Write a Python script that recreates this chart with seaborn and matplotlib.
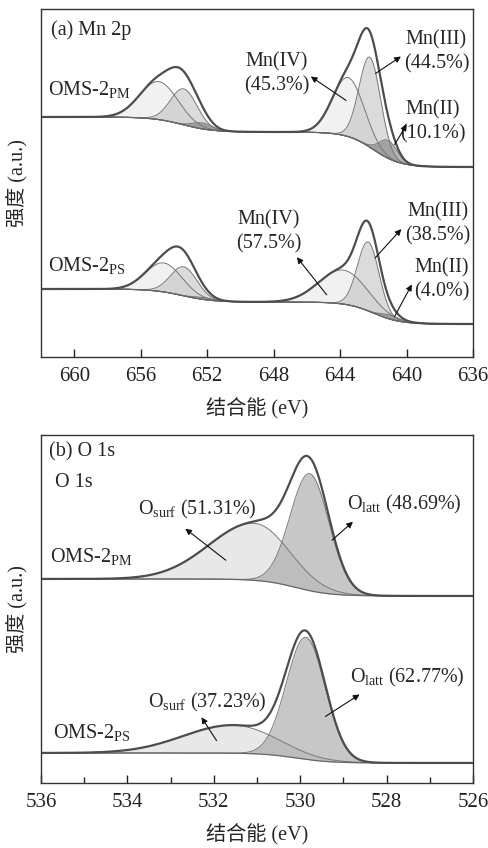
import numpy as np
import matplotlib
matplotlib.use('Agg')
import matplotlib.pyplot as plt
from matplotlib.ticker import MultipleLocator
import seaborn as sns

sns.set_theme(style='ticks')
plt.rcParams['font.family'] = ['Liberation Serif', 'Noto Sans CJK SC']
plt.rcParams['mathtext.fontset'] = 'custom'
plt.rcParams['mathtext.rm'] = 'Liberation Serif'
plt.rcParams['mathtext.it'] = 'Liberation Serif:italic'

## Mn 2p fit: centre (eV), height (a.u.), sigma (eV)
# order: Mn(IV), Mn(III), Mn(II) for 2p3/2 then the same for 2p1/2
mn_kind = ['IV', 'III', 'II', 'IV', 'III', 'II']
mn_center_pm = [643.5, 642.2, 641.1, 654.9, 653.4, 652.3]
mn_height_pm = [59, 90, 18, 38, 36, 6]
mn_sigma_pm = [0.95, 0.65, 0.55, 1.15, 0.8, 0.6]
mn_center_ps = [643.8, 642.3, 641.0, 654.6, 653.4, 652.2]
mn_height_ps = [34, 69, 4, 29, 29, 2]
mn_sigma_ps = [1.45, 0.65, 0.55, 1.1, 0.8, 0.6]
# background levels (low BE side, between peaks, high BE side)
mn_bg_pm = [190, 225, 240]
mn_bg_ps = [33, 55, 68]
mn_step = [642.0, 653.5]
mn_step_w = [0.8, 0.9]

## O 1s fit: O_surf, O_latt (sigma on high / low BE side)
o_kind = ['surf', 'latt']
o_center_pm = [531.05, 529.78]
o_height_pm = [57, 117]
o_sigma_hi_pm = [1.05, 0.45]
o_sigma_lo_pm = [0.8, 0.45]
o_center_ps = [531.56, 529.87]
o_height_ps = [28, 122]
o_sigma_hi_ps = [1.15, 0.45]
o_sigma_lo_ps = [1.0, 0.45]
o_bg_pm = [187, 204]
o_bg_ps = [20, 30]
o_step = 530.1
o_step_w = 0.4

fills = {'IV': ('#d8d8d8', 0.35), 'III': ('#b8b8b8', 0.5), 'II': ('#6a6a6a', 0.5),
         'surf': ('#d6d6d6', 0.55), 'latt': ('#9a9a9a', 0.55)}


def sig(t):
    return 1.0 / (1.0 + np.exp(-t))


def draw(ax, E, bg, kinds, centers, heights, s_hi, s_lo):
    comps = []
    for c, h, a, b in zip(centers, heights, s_hi, s_lo):
        s = np.where(E > c, a, b)
        comps.append(h * np.exp(-(E - c) ** 2 / (2 * s ** 2)))
    for k, comp in zip(kinds, comps):
        col, a = fills[k]
        ax.fill_between(E, bg, bg + comp, color=col, alpha=a, lw=0)
        sns.lineplot(x=E, y=bg + comp, ax=ax, color='#777777', lw=0.7, sort=False, estimator=None)
    sns.lineplot(x=E, y=bg, ax=ax, color='#666666', lw=0.9, sort=False, estimator=None)
    env = bg + np.sum(comps, axis=0)
    sns.lineplot(x=E, y=env, ax=ax, color='#4d4d4d', lw=1.6, sort=False, estimator=None)


def arrow(ax, head, tail):
    ax.annotate('', xy=head, xytext=tail,
                arrowprops=dict(arrowstyle='-|>', color='#111111', lw=0.8, mutation_scale=9))


fig = plt.figure(figsize=(4.89, 8.48), dpi=100)
ax1 = fig.add_axes([0.0838, 0.579, 0.8834, 0.4104])
ax2 = fig.add_axes([0.0838, 0.0767, 0.8834, 0.4104])
fs = 14.5
ls = 1.3

# (a) Mn 2p
E = np.linspace(662, 636, 700)
for lv, cen, hts, sg in [(mn_bg_pm, mn_center_pm, mn_height_pm, mn_sigma_pm),
                         (mn_bg_ps, mn_center_ps, mn_height_ps, mn_sigma_ps)]:
    bg = lv[0] + (lv[1] - lv[0]) * sig((E - mn_step[0]) / mn_step_w[0]) \
        + (lv[2] - lv[1]) * sig((E - mn_step[1]) / mn_step_w[1])
    draw(ax1, E, bg, mn_kind, cen, hts, sg, sg)

ax1.set_xlim(662, 636)
ax1.set_ylim(0, 348)
ax1.set_xticks(np.arange(660, 635, -4))
ax1.text(661.4, 327, '(a) Mn 2p', fontsize=fs, va='center')
ax1.text(661.6, 267, 'OMS-2$_{\\mathrm{PM}}$', fontsize=fs, va='center')
ax1.text(661.6, 92, 'OMS-2$_{\\mathrm{PS}}$', fontsize=fs, va='center')

ax1.text(647.8, 283, 'Mn(IV)\n(45.3%)', fontsize=fs, ha='center', va='center', linespacing=ls)
arrow(ax1, (645.9, 282), (643.5, 255))
ax1.text(638.2, 305, 'Mn(III)\n(44.5%)', fontsize=fs, ha='center', va='center', linespacing=ls)
arrow(ax1, (640.2, 302), (642.0, 282))
ax1.text(638.4, 235, 'Mn(II)\n(10.1%)', fontsize=fs, ha='center', va='center', linespacing=ls)
arrow(ax1, (639.9, 235), (640.8, 210))

ax1.text(648.3, 125, 'Mn(IV)\n(57.5%)', fontsize=fs, ha='center', va='center', linespacing=ls)
arrow(ax1, (646.7, 102), (644.7, 60))
ax1.text(638.1, 133, 'Mn(III)\n(38.5%)', fontsize=fs, ha='center', va='center', linespacing=ls)
arrow(ax1, (640.2, 130), (642.0, 97))
ax1.text(637.9, 77, 'Mn(II)\n(4.0%)', fontsize=fs, ha='center', va='center', linespacing=ls)
arrow(ax1, (639.6, 75), (640.8, 38))

# (b) O 1s
E2 = np.linspace(536, 526, 600)
for lv, cen, hts, sh, sl in [(o_bg_pm, o_center_pm, o_height_pm, o_sigma_hi_pm, o_sigma_lo_pm),
                             (o_bg_ps, o_center_ps, o_height_ps, o_sigma_hi_ps, o_sigma_lo_ps)]:
    bg = lv[0] + (lv[1] - lv[0]) * sig((E2 - o_step) / o_step_w)
    draw(ax2, E2, bg, o_kind, cen, hts, sh, sl)

ax2.set_xlim(536, 526)
ax2.set_ylim(0, 348)
ax2.set_xticks(np.arange(536, 525, -2))
ax2.xaxis.set_minor_locator(MultipleLocator(1))
ax2.text(535.81, 331, '(b) O 1s', fontsize=fs, va='center')
ax2.text(535.68, 300, 'O 1s', fontsize=fs, va='center')
ax2.text(535.79, 226, 'OMS-2$_{\\mathrm{PM}}$', fontsize=fs, va='center')
ax2.text(535.72, 50, 'OMS-2$_{\\mathrm{PS}}$', fontsize=fs, va='center')

ax2.text(533.75, 273, 'O$_{\\mathrm{surf}}$ (51.31%)', fontsize=fs, va='center')
arrow(ax2, (532.71, 256), (531.67, 221))
ax2.text(528.92, 278, 'O$_{\\mathrm{latt}}$ (48.69%)', fontsize=fs, va='center')
arrow(ax2, (528.73, 263), (529.31, 241))
ax2.text(533.52, 80, 'O$_{\\mathrm{surf}}$ (37.23%)', fontsize=fs, va='center')
arrow(ax2, (532.32, 68), (531.9, 40))
ax2.text(528.85, 105, 'O$_{\\mathrm{latt}}$ (62.77%)', fontsize=fs, va='center')
arrow(ax2, (528.57, 90), (529.47, 65))

for ax in (ax1, ax2):
    ax.set_yticks([])
    ax.tick_params(axis='x', which='major', direction='in', length=6, width=1,
                   labelsize=15, pad=7, colors='#222222')
    ax.tick_params(axis='x', which='minor', direction='in', length=4, width=1, colors='#222222')
    for s in ax.spines.values():
        s.set_color('#333333')
        s.set_linewidth(1.0)
    ax.set_xlabel('结合能 (eV)', fontsize=fs, labelpad=9)
    ax.set_ylabel('强度 (a.u.)', fontsize=fs)
    ax.yaxis.set_label_coords(-0.032, 0.5)

fig.savefig('out.png', dpi=100)
